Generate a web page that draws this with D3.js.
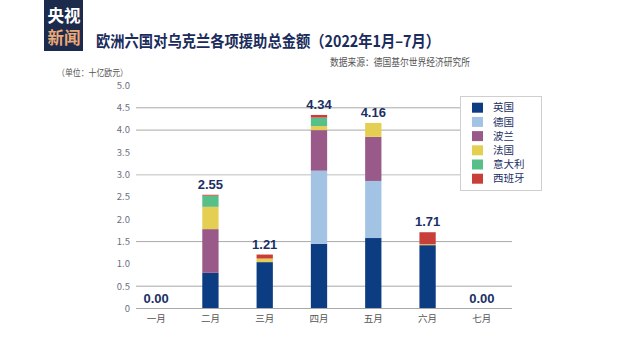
<!DOCTYPE html>
<html><head><meta charset="utf-8">
<script src="https://cdn.jsdelivr.net/npm/d3@7"></script>
<style>html,body{margin:0;padding:0;background:#fff;}svg{display:block;font-family:"Noto Sans CJK SC","Noto Sans",sans-serif;}</style>
</head><body>
<script>
const months = ["一月","二月","三月","四月","五月","六月","七月"];
const countries = ["英国","德国","波兰","法国","意大利","西班牙"];
const colors = ["#0c3c82","#a3c3e5","#995a89","#e5cf52","#58bf88","#c83f39"];
const uk = [0, 0.80, 1.04, 1.45, 1.58, 1.42, 0];
const de = [0, 0, 0, 1.64, 1.28, 0, 0];
const pl = [0, 0.98, 0, 0.91, 0.99, 0, 0];
const fr = [0, 0.50, 0.08, 0.09, 0.31, 0.02, 0];
const it = [0, 0.25, 0, 0.19, 0, 0, 0];
const es = [0, 0.02, 0.09, 0.06, 0, 0.27, 0];
const totals = ["0.00","2.55","1.21","4.34","4.16","1.71","0.00"];
const yTicks = [0,0.5,1.0,1.5,2.0,2.5,3.0,3.5,4.0,4.5,5.0];
const gridVals = [0.5,1.5,3.0,4.0,4.5];

const W=640,H=360;
const svg=d3.select("body").append("svg").attr("width",W).attr("height",H);
const data = months.map((m,i)=>({month:m,"英国":uk[i],"德国":de[i],"波兰":pl[i],"法国":fr[i],"意大利":it[i],"西班牙":es[i]}));
const x=d3.scaleBand().domain(months).range([129,509]).paddingInner(0.7).paddingOuter(0.35);
const y=d3.scaleLinear().domain([0,5]).range([308.5,85.5]);
const color=d3.scaleOrdinal().domain(countries).range(colors);

// logo
const logo=svg.append("g");
logo.append("rect").attr("x",44).attr("y",0).attr("width",39).attr("height",51).attr("fill","#1c2a4c");
logo.append("text").attr("x",64).attr("y",21.5).attr("text-anchor","middle").attr("font-size",16.5).attr("font-weight","bold").attr("fill","#fff").text("央视");
logo.append("text").attr("x",64).attr("y",43.5).attr("text-anchor","middle").attr("font-size",16.5).attr("font-weight","bold").attr("fill","#e9a877").text("新闻");

svg.append("text").attr("x",96).attr("y",47).attr("font-size",16).attr("font-weight","bold").attr("fill","#1a2c5c")
  .attr("textLength",344).attr("lengthAdjust","spacingAndGlyphs").text("欧洲六国对乌克兰各项援助总金额（2022年1月–7月）");
svg.append("text").attr("x",330).attr("y",66).attr("font-size",10).attr("fill","#555")
  .attr("textLength",140).attr("lengthAdjust","spacingAndGlyphs").text("数据来源：德国基尔世界经济研究所");
svg.append("text").attr("x",57).attr("y",75.5).attr("font-size",9).attr("fill","#555")
  .attr("textLength",71).attr("lengthAdjust","spacingAndGlyphs").text("（单位：十亿欧元）");

// gridlines
svg.append("g").selectAll("line").data(gridVals).join("line")
  .attr("x1",136).attr("x2",512).attr("y1",d=>y(d)).attr("y2",d=>y(d))
  .attr("stroke",d=>d===3.0?"#d4d4d4":"#a8a8a8").attr("stroke-width",d=>d===3.0?1.6:1);

// y ticks
svg.append("g").selectAll("text").data(yTicks).join("text")
  .attr("x",130).attr("y",d=>y(d)).attr("dy","0.35em").attr("text-anchor","end")
  .attr("font-size",9.5).attr("fill","#6b7080").text(d=>d===0?"0":d.toFixed(1));

// stacks
const series=d3.stack().keys(countries)(data);
svg.append("g").selectAll("g").data(series).join("g").attr("fill",s=>color(s.key))
  .selectAll("rect").data(s=>s).join("rect")
  .attr("x",d=>x(d.data.month)).attr("width",x.bandwidth())
  .attr("y",d=>y(d[1])).attr("height",d=>Math.max(0,y(d[0])-y(d[1])));

// baseline
svg.append("line").attr("x1",136).attr("x2",512).attr("y1",y(0)).attr("y2",y(0)).attr("stroke","#a8a8a8");

// totals
svg.append("g").selectAll("text").data(months).join("text")
  .attr("x",m=>x(m)+x.bandwidth()/2).attr("y",(m,i)=>y(+totals[i])-6)
  .attr("text-anchor","middle").attr("font-size",13).attr("font-weight","bold")
  .attr("font-family","Liberation Sans, Arial, sans-serif").attr("fill","#1b2f66").text((m,i)=>totals[i]);

// month labels
svg.append("g").selectAll("text").data(months).join("text")
  .attr("x",m=>x(m)+x.bandwidth()/2).attr("y",322).attr("text-anchor","middle")
  .attr("font-size",9.5).attr("fill","#555").text(m=>m);

// legend
const lg=svg.append("g");
lg.append("rect").attr("x",460.5).attr("y",96.5).attr("width",81).attr("height",94).attr("fill","#fff").attr("stroke","#cfcfcf");
const items=lg.selectAll("g").data(countries).join("g").attr("transform",(d,i)=>`translate(0,${107.7+i*14.2})`);
items.append("rect").attr("x",472).attr("y",-5).attr("width",11).attr("height",10).attr("fill",d=>color(d));
items.append("text").attr("x",493).attr("y",0).attr("dy","0.35em").attr("font-size",10.5).attr("fill","#1b2f66").text(d=>d);
</script>
</body></html>
